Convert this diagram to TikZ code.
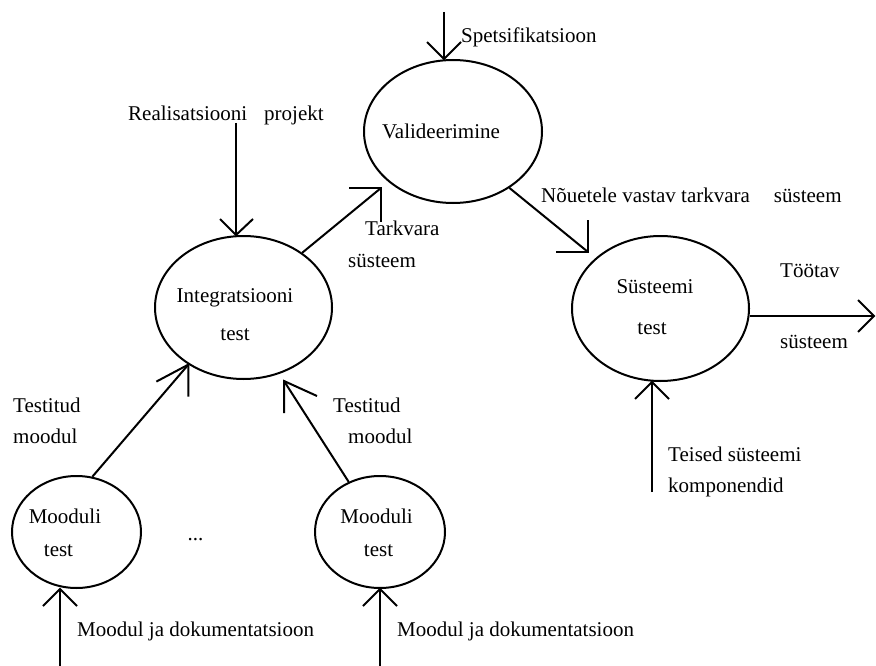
\documentclass[tikz,border=0pt]{standalone}
\usepackage{fontspec}
\setmainfont{Liberation Serif}
\usetikzlibrary{shapes.geometric}
\begin{document}
\begin{tikzpicture}[x=1pt,y=-1pt,
  flow/.style={line width=2pt},
  bubble/.style={ellipse,draw,line width=2pt,inner sep=0pt},
  txt/.style={inner sep=0pt,font=\fontsize{21}{25}\selectfont}]
\path[use as bounding box] (0,0) rectangle (876,666);

% process bubbles
\node[bubble,minimum width=178pt,minimum height=143pt] (val)   at (453,131.5) {};
\node[bubble,minimum width=177pt,minimum height=143pt] (integ) at (243.5,307.5) {};
\node[bubble,minimum width=177pt,minimum height=145pt] (sys)   at (660.5,308.5) {};
\node[bubble,minimum width=129pt,minimum height=112pt] (mod1)  at (76.5,532) {};
\node[bubble,minimum width=130pt,minimum height=112pt] (mod2)  at (380,532) {};

% bubble captions
\node[txt,anchor=base] (valt)  at (441,139) {Valideerimine};
\node[txt,anchor=base] (intt1) at (235,302) {Integratsiooni};
\node[txt,anchor=base] (intt2) at (235,340) {test};
\node[txt,anchor=base] (syst1) at (655,293) {Süsteemi};
\node[txt,anchor=base] (syst2) at (652,334) {test};
\node[txt,anchor=base] (m1t1)  at (65,523) {Mooduli};
\node[txt,anchor=base] (m1t2)  at (58.5,556) {test};
\node[txt,anchor=base] (m2t1)  at (376.5,523) {Mooduli};
\node[txt,anchor=base] (m2t2)  at (378.5,556) {test};
\node[txt,anchor=base] (dots)  at (195.5,540) {...};

% flow labels
\node[txt,anchor=base west] (lspec) at (461,43) {Spetsifikatsioon};
\node[txt,anchor=base west] (lreal) at (128,121) {Realisatsiooni\hspace{17pt}projekt};
\node[txt,anchor=base west] (lnou)  at (541,203) {Nõuetele vastav tarkvara\hspace{24pt}süsteem};
\node[txt,anchor=base west] (ltar1) at (365,236) {Tarkvara};
\node[txt,anchor=base west] (ltar2) at (348,267) {süsteem};
\node[txt,anchor=base west] (ltoo1) at (780,277) {Töötav};
\node[txt,anchor=base west] (ltoo2) at (780,348) {süsteem};
\node[txt,anchor=base west] (lteis1) at (668,461) {Teised süsteemi};
\node[txt,anchor=base west] (lteis2) at (668,492) {komponendid};
\node[txt,anchor=base west] (ltest1) at (13,412) {Testitud};
\node[txt,anchor=base west] (ltest2) at (13,443) {moodul};
\node[txt,anchor=base west] (ltest3) at (333,412) {Testitud};
\node[txt,anchor=base west] (ltest4) at (348,443) {moodul};
\node[txt,anchor=base west] (ldok1) at (77,636) {Moodul ja dokumentatsioon};
\node[txt,anchor=base west] (ldok2) at (397,636) {Moodul ja dokumentatsioon};

% specification into validation
\coordinate (specin) at (444,12);
\coordinate (spectip) at (specin |- val.north);
\draw[flow] (specin) -- (spectip);
\draw[flow] (spectip) ++(-17,-17) -- (spectip) -- ++(17,-17);

% implementation project into integration test
\coordinate (realin) at (236,123);
\coordinate (realtip) at (realin |- integ.north);
\draw[flow] (realin) -- (realtip);
\draw[flow] (realtip) ++(-16,-16) -- (realtip) -- ++(17,-16);

% integration test to validation
\coordinate (tv) at (381,188);
\draw[flow] (integ.43.5) -- (tv);
\draw[flow] (tv) ++(-32,0) -- (tv) -- ++(0,34);

% validation to system test
\coordinate (ts) at (588,252);
\draw[flow] (val.-45.5) -- (ts);
\draw[flow] (ts) ++(-32,0) -- (ts) -- ++(0,-32);

% working system out
\coordinate (outtip) at (874,316);
\draw[flow] (sys.east |- outtip) -- (outtip);
\draw[flow] (outtip) ++(-16,-16) -- (outtip) -- ++(-16,16);

% other components into system test
\coordinate (sysin) at (652,492);
\coordinate (systip) at (sysin |- sys.south);
\draw[flow] (sysin) -- (systip);
\draw[flow] (systip) ++(-17,17) -- (systip) -- ++(17,17);

% module tests into integration test
\draw[flow] (mod1.74) -- (integ.226);
\draw[flow] (integ.226) ++(0,32) -- (integ.226) -- ++(-32,17);
\coordinate (ti2) at (284,381);
\draw[flow] (mod2.122) -- (ti2);
\draw[flow] (ti2) ++(0,32) -- (ti2) -- ++(33,15);

% modules and documentation in
\coordinate (m1in) at (60,666);
\coordinate (m1tip) at (m1in |- mod1.south);
\draw[flow] (m1in) -- (m1tip);
\draw[flow] (m1tip) ++(-17,17) -- (m1tip) -- ++(17,17);
\coordinate (m2in) at (380,666);
\coordinate (m2tip) at (m2in |- mod2.south);
\draw[flow] (m2in) -- (m2tip);
\draw[flow] (m2tip) ++(-17,17) -- (m2tip) -- ++(17,17);
\end{tikzpicture}
\end{document}
